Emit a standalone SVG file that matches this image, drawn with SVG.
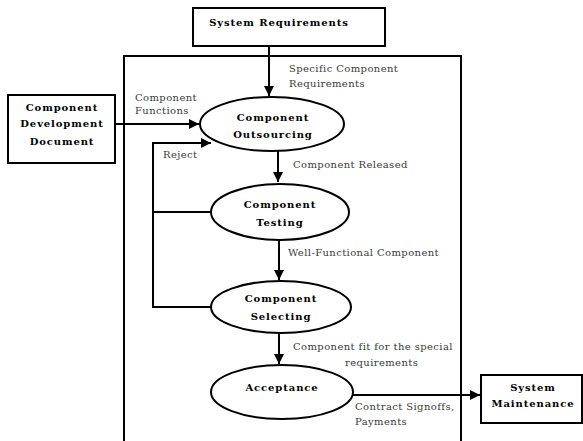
<svg xmlns="http://www.w3.org/2000/svg" width="583" height="441" viewBox="0 0 583 441">
<style>
.box{fill:#fff;stroke:#000;stroke-width:2}
.frame{fill:none;stroke:#000;stroke-width:2}
.ell{fill:#fff;stroke:#000;stroke-width:2}
.ln{fill:none;stroke:#000;stroke-width:2}
.b{font-family:"DejaVu Serif",serif;font-weight:bold;font-size:10px;letter-spacing:0.9px;fill:#000;text-anchor:middle}
.l{font-family:"DejaVu Serif",serif;font-size:10px;letter-spacing:0.4px;fill:#3a3a3a}
</style>
<defs>
<marker id="ah" viewBox="0 0 10 10" refX="10" refY="5" markerWidth="10" markerHeight="10" markerUnits="userSpaceOnUse" orient="auto">
<path d="M0,0 L10,5 L0,10 Z" fill="#000"/>
</marker>
</defs>
<rect x="124" y="56" width="337" height="390" class="frame"/>
<g id="connectors">
<line x1="269" y1="46" x2="269" y2="96" class="ln" marker-end="url(#ah)"/>
<line x1="115" y1="124" x2="199" y2="124" class="ln" marker-end="url(#ah)"/>
<line x1="278" y1="151" x2="278" y2="182" class="ln" marker-end="url(#ah)"/>
<line x1="279" y1="240" x2="279" y2="280" class="ln" marker-end="url(#ah)"/>
<line x1="279" y1="333" x2="279" y2="364" class="ln" marker-end="url(#ah)"/>
<line x1="353" y1="395" x2="480" y2="395" class="ln" marker-end="url(#ah)"/>
<polyline points="211,307 153,307 153,143 211,143" class="ln" marker-end="url(#ah)"/>
<line x1="153" y1="212" x2="211" y2="212" class="ln"/>
<text class="l" x="289" y="72">Specific Component</text>
<text class="l" x="289" y="87">Requirements</text>
<text class="l" x="135" y="101">Component</text>
<text class="l" x="135" y="114">Functions</text>
<text class="l" x="163" y="158">Reject</text>
<text class="l" x="293" y="168">Component Released</text>
<text class="l" x="288" y="256">Well-Functional Component</text>
<text class="l" x="293" y="350">Component fit for the special</text>
<text class="l" x="345" y="366">requirements</text>
<text class="l" x="355" y="410">Contract Signoffs,</text>
<text class="l" x="355" y="425">Payments</text>
</g>
<g id="system-requirements">
<rect x="193" y="8" width="192" height="38" class="box"/>
<text class="b" x="279" y="26">System Requirements</text>
</g>
<g id="component-development-document">
<rect x="8" y="95" width="107" height="68" class="box"/>
<text class="b" x="62" y="111">Component</text>
<text class="b" x="62" y="127">Development</text>
<text class="b" x="62" y="145">Document</text>
</g>
<g id="component-outsourcing">
<ellipse cx="272" cy="124" rx="72" ry="27" class="ell"/>
<text class="b" x="273" y="121">Component</text>
<text class="b" x="273" y="138">Outsourcing</text>
</g>
<g id="component-testing">
<ellipse cx="280" cy="212" rx="69" ry="28" class="ell"/>
<text class="b" x="280" y="208">Component</text>
<text class="b" x="280" y="226">Testing</text>
</g>
<g id="component-selecting">
<ellipse cx="281" cy="307" rx="70" ry="26" class="ell"/>
<text class="b" x="281" y="302">Component</text>
<text class="b" x="281" y="320">Selecting</text>
</g>
<g id="acceptance">
<ellipse cx="282" cy="392" rx="71" ry="27" class="ell"/>
<text class="b" x="282" y="391">Acceptance</text>
</g>
<g id="system-maintenance">
<rect x="481" y="375" width="101" height="48" class="box"/>
<text class="b" x="533" y="391">System</text>
<text class="b" x="533" y="407">Maintenance</text>
</g>
</svg>
